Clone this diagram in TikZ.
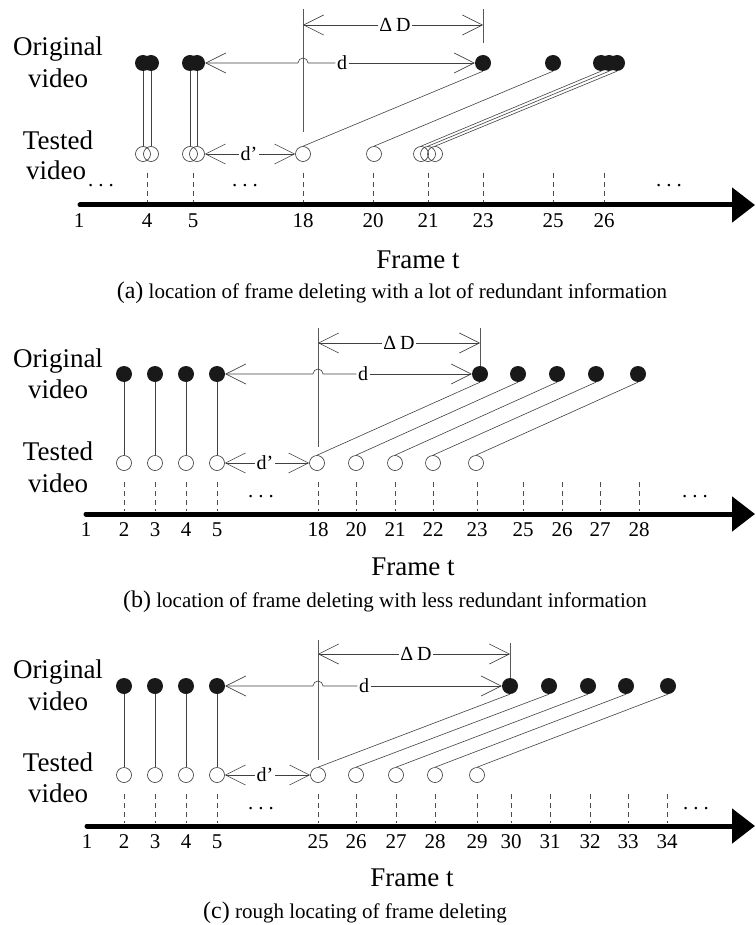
\documentclass[tikz,border=0pt]{standalone}
\usepackage{fontspec}
\setmainfont{Liberation Serif}
\usetikzlibrary{arrows.meta}

\newcommand\rowlabfont{\fontsize{27}{33}\selectfont}
\newcommand\numfont{\fontsize{21}{24}\selectfont}
\newcommand\dimfont{\fontsize{20}{22}\selectfont}
\newcommand\capfont{\fontsize{21}{24}\selectfont}
\newcommand\capletter{\fontsize{24}{26}\selectfont}
\newcommand\threedots{.\hspace{5pt}.\hspace{5pt}.}
\newcommand\deltaD{Δ\kern4pt D}

\tikzset{
  dot/.style={circle, fill=black!90, inner sep=0pt, minimum size=16pt},
  ring/.style={circle, draw=black!80, line width=0.6pt, inner sep=0pt, minimum size=15pt},
  conn/.style={draw=black!75, line width=0.6pt},
  guide/.style={draw=black!65, line width=0.6pt},
  barb/.tip={Straight Barb[length=20pt,width=20pt,line width=0.6pt]},
  tickline/.style={draw=black!70, line width=0.5pt, dash pattern=on 5pt off 4pt},
  timeaxis/.style={draw=black, line width=5pt, line cap=round, -{Triangle[length=23pt,width=34pt]}},
  rowlab/.style={anchor=base, inner sep=0pt, font=\rowlabfont},
  numlab/.style={anchor=base, inner sep=0pt, font=\numfont},
  dimlab/.style={inner sep=1.5pt, font=\dimfont},
  ellip/.style={anchor=base, inner sep=0pt, font=\numfont},
  axistitle/.style={anchor=base, inner sep=0pt, font=\rowlabfont},
  captext/.style={anchor=base, inner sep=0pt, font=\capfont},
}

\begin{document}
\begin{tikzpicture}[x=1pt, y=-1pt]
\useasboundingbox (0,0) rectangle (755,925);

% ================= (a) =================
\node[rowlab] (aorig1) at (58,56) {Original};
\node[rowlab] (aorig2) at (58,88) {video};
\node[rowlab] (atest1) at (58,150) {Tested};
\node[rowlab] (atest2) at (56,180) {video};

% original frames
\node[dot] (aO4a) at (143,63) {};
\node[dot] (aO4b) at (151,63) {};
\node[dot] (aO5a) at (190,63) {};
\node[dot] (aO5b) at (197,63) {};
\node[dot] (aO23) at (483,63) {};
\node[dot] (aO25) at (553,63) {};
\node[dot] (aO26a) at (601,63) {};
\node[dot] (aO26b) at (609,63) {};
\node[dot] (aO26c) at (617,63) {};
% tested frames
\node[ring] (aT4a) at (143,154) {};
\node[ring] (aT4b) at (151,154) {};
\node[ring] (aT5a) at (190,154) {};
\node[ring] (aT5b) at (197,154) {};
\node[ring] (aT18) at (303,154) {};
\node[ring] (aT20) at (374,154) {};
\node[ring] (aT21a) at (421,154) {};
\node[ring] (aT21b) at (428,154) {};
\node[ring] (aT21c) at (435,154) {};

\draw[conn] (aO4a.south) -- (aT4a.north);
\draw[conn] (aO4b.south) -- (aT4b.north);
\draw[conn] (aO5a.south) -- (aT5a.north);
\draw[conn] (aO5b.south) -- (aT5b.north);
\draw[conn] (aT18.north) -- (aO23.south);
\draw[conn] (aT20.north) -- (aO25.south);
\draw[conn] (aT21a.north) -- (aO26a.south);
\draw[conn] (aT21b.north) -- (aO26b.south);
\draw[conn] (aT21c.north) -- (aO26c.south);

% dimension lines
\coordinate (aVLtop) at (303,9);
\coordinate (aVLbot) at (303,132);
\coordinate (aVRtop) at (483,9);
\coordinate (aVRbot) at (483,43);
\draw[guide] (aVLtop) -- (aVLbot);
\draw[guide] (aVRtop) -- (aVRbot);
\node[dimlab] (aDD) at (395,25) {\deltaD};
\draw[conn, barb-] (303,25) -- (aDD.west);
\draw[conn, -barb] (aDD.east) -- (483,25);
\node[dimlab] (ad) at (342,63) {d};
\draw[conn, barb-] (aO5b.east) -- (298,63) arc[start angle=180, end angle=0, radius=5pt] -- (ad.west);
\draw[conn, -barb] (ad.east) -- (aO23.west);
\node[dimlab] (adp) at (249,154) {d’};
\draw[conn, barb-] (aT5b.east) -- (adp.west);
\draw[conn, -barb] (adp.east) -- (aT18.west);

% time axis
\foreach \x/\n in {147/4,193/5,303/18,373/20,428/21,483/23,553/25,604/26}{
  \draw[tickline] (\x,173) -- (\x,202);
  \node[numlab] at (\x,227) {\n};
}
\node[numlab] (a1) at (79,227) {1};
\coordinate (aAx0) at (80,205);
\coordinate (aAx1) at (755,205);
\draw[timeaxis] (aAx0) -- (aAx1);
\node[ellip] (ael1) at (101,187) {\threedots};
\node[ellip] (ael2) at (245,187) {\threedots};
\node[ellip] (ael3) at (669,187) {\threedots};
\node[axistitle] (aft) at (418,268) {Frame t};
\node[captext] (acap) at (392,298) {{\capletter(a)} location of frame deleting with a lot of redundant information};

% ================= (b) =================
\node[rowlab] (borig1) at (58,367) {Original};
\node[rowlab] (borig2) at (58,398) {video};
\node[rowlab] (btest1) at (58,460) {Tested};
\node[rowlab] (btest2) at (58,492) {video};

\foreach \i/\x in {2/124,3/155,4/186,5/217}{
  \node[dot] (bO\i) at (\x,374) {};
  \node[ring] (bT\i) at (\x,463) {};
  \draw[conn] (bO\i.south) -- (bT\i.north);
}
\foreach \i/\xt/\xo in {1/317/480,2/356/518,3/395/557,4/433/596,5/476/638}{
  \node[dot] (bOr\i) at (\xo,374) {};
  \node[ring] (bTr\i) at (\xt,463) {};
  \draw[conn] (bTr\i.north) -- (bOr\i.south);
}

\coordinate (bVLtop) at (318,328);
\coordinate (bVLbot) at (318,447);
\coordinate (bVRtop) at (480,328);
\draw[guide] (bVLtop) -- (bVLbot);
\draw[guide] (bVRtop) -- (bOr1.north);
\node[dimlab] (bDD) at (399,343) {\deltaD};
\draw[conn, barb-] (318,343) -- (bDD.west);
\draw[conn, -barb] (bDD.east) -- (480,343);
\node[dimlab] (bd) at (363,374) {d};
\draw[conn, barb-] (bO5.east) -- (313,374) arc[start angle=180, end angle=0, radius=5pt] -- (bd.west);
\draw[conn, -barb] (bd.east) -- (bOr1.west);
\node[dimlab] (bdp) at (265,463) {d’};
\draw[conn, barb-] (bT5.east) -- (bdp.west);
\draw[conn, -barb] (bdp.east) -- (bTr1.west);

\foreach \x/\n in {124/2,155/3,186/4,217/5,318/18,356/20,395/21,433/22,477/23,523/25,562/26,600/27,639/28}{
  \draw[tickline] (\x,482) -- (\x,511);
  \node[numlab] at (\x,536) {\n};
}
\node[numlab] (b1) at (86,536) {1};
\coordinate (bAx0) at (86,514);
\coordinate (bAx1) at (755,514);
\draw[timeaxis] (bAx0) -- (bAx1);
\node[ellip] (bel1) at (261,497) {\threedots};
\node[ellip] (bel2) at (695,497) {\threedots};
\node[axistitle] (bft) at (413,575) {Frame t};
\node[captext] (bcap) at (385,607) {{\capletter(b)} location of frame deleting with less redundant information};

% ================= (c) =================
\node[rowlab] (corig1) at (58,678) {Original};
\node[rowlab] (corig2) at (58,710) {video};
\node[rowlab] (ctest1) at (58,771) {Tested};
\node[rowlab] (ctest2) at (58,802) {video};

\foreach \i/\x in {2/124,3/155,4/186,5/217}{
  \node[dot] (cO\i) at (\x,686) {};
  \node[ring] (cT\i) at (\x,775) {};
  \draw[conn] (cO\i.south) -- (cT\i.north);
}
\foreach \i/\xt/\xo in {1/318/510,2/356/549,3/396/588,4/435/626,5/477/668}{
  \node[dot] (cOr\i) at (\xo,686) {};
  \node[ring] (cTr\i) at (\xt,775) {};
  \draw[conn] (cTr\i.north) -- (cOr\i.south);
}

\coordinate (cVLtop) at (318,640);
\coordinate (cVLbot) at (318,760);
\coordinate (cVRtop) at (510,643);
\draw[guide] (cVLtop) -- (cVLbot);
\draw[guide] (cVRtop) -- (cOr1.north);
\node[dimlab] (cDD) at (416,654) {\deltaD};
\draw[conn, barb-] (318,654) -- (cDD.west);
\draw[conn, -barb] (cDD.east) -- (510,654);
\node[dimlab] (cd) at (364,686) {d};
\draw[conn, barb-] (cO5.east) -- (313,686) arc[start angle=180, end angle=0, radius=5pt] -- (cd.west);
\draw[conn, -barb] (cd.east) -- (cOr1.west);
\node[dimlab] (cdp) at (265,775) {d’};
\draw[conn, barb-] (cT5.east) -- (cdp.west);
\draw[conn, -barb] (cdp.east) -- (cTr1.west);

\foreach \x/\n in {124/2,155/3,186/4,217/5,318/25,356/26,396/27,435/28,477/29,511/30,550/31,590/32,628/33,667/34}{
  \draw[tickline] (\x,794) -- (\x,823);
  \node[numlab] at (\x,848) {\n};
}
\node[numlab] (c1) at (87,848) {1};
\coordinate (cAx0) at (87,826);
\coordinate (cAx1) at (755,826);
\draw[timeaxis] (cAx0) -- (cAx1);
\node[ellip] (cel1) at (261,809) {\threedots};
\node[ellip] (cel2) at (696,809) {\threedots};
\node[axistitle] (cft) at (412,886) {Frame t};
\node[captext] (ccap) at (355,918) {{\capletter(c)} rough locating of frame deleting};
\end{tikzpicture}
\end{document}
